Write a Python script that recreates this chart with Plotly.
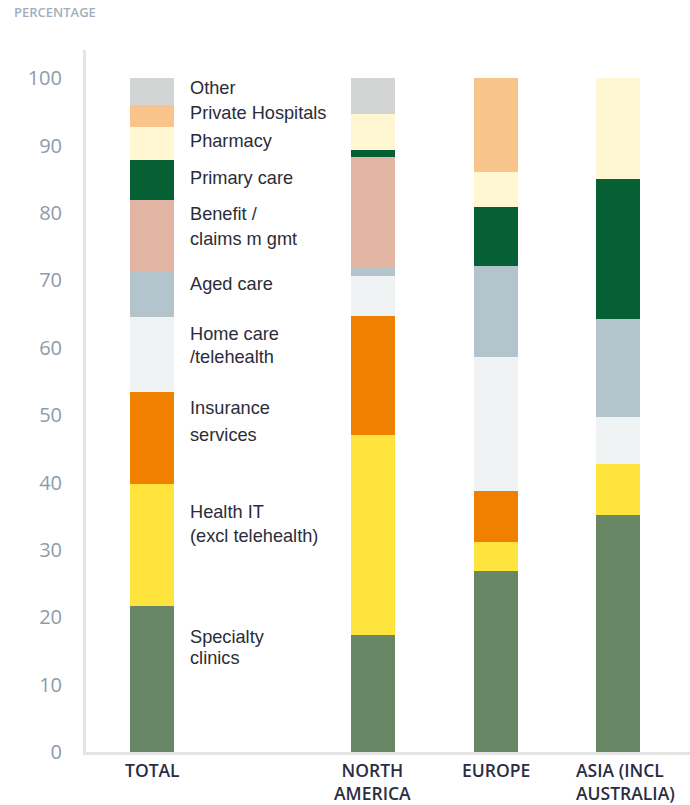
import plotly.graph_objects as go

# Regions (bars) and their axis labels
regions = ["TOTAL", "NORTH<br>AMERICA", "EUROPE", "ASIA (INCL<br>AUSTRALIA)"]

# Share of each segment per region, in percent (stacked bottom to top)
specialty_clinics = [21.6, 17.3, 26.8, 35.2]
health_it = [18.2, 29.7, 4.3, 7.6]
insurance_services = [13.7, 17.7, 7.6, 0.0]
home_care = [11.1, 6.0, 20.0, 6.9]
aged_care = [6.8, 1.1, 13.4, 14.5]
benefit_claims = [10.5, 16.5, 0.0, 0.0]
primary_care = [5.9, 1.1, 8.8, 20.8]
pharmacy = [4.9, 5.3, 5.2, 15.0]
private_hospitals = [3.4, 0.0, 13.9, 0.0]
other = [3.9, 5.3, 0.0, 0.0]

y_ticks = [0, 10, 20, 30, 40, 50, 60, 70, 80, 90, 100]

# Bar positions on the x axis (gap left after TOTAL)
x_pos = [0, 1.8, 2.8, 3.8]

series = [
    ("Specialty clinics", specialty_clinics, "#688865"),
    ("Health IT (excl telehealth)", health_it, "#ffe43e"),
    ("Insurance services", insurance_services, "#f08100"),
    ("Home care /telehealth", home_care, "#eff3f4"),
    ("Aged care", aged_care, "#b3c4cc"),
    ("Benefit / claims mgmt", benefit_claims, "#e1b5a2"),
    ("Primary care", primary_care, "#066033"),
    ("Pharmacy", pharmacy, "#fff7d1"),
    ("Private Hospitals", private_hospitals, "#f9c48b"),
    ("Other", other, "#d3d5d4"),
]

fig = go.Figure()
for name, vals, color in series:
    fig.add_trace(go.Bar(
        x=x_pos, y=vals, name=name, width=0.359,
        marker=dict(color=color, line=dict(width=0)),
        showlegend=False,
    ))

# Segment names written beside the TOTAL bar (one annotation per line)
label_lines = [
    ("Other", 98.6),
    ("Private Hospitals", 94.9),
    ("Pharmacy", 90.7),
    ("Primary care", 85.2),
    ("Benefit /", 79.9),
    ("claims m gmt", 76.2),
    ("Aged care", 69.4),
    ("Home care", 62.0),
    ("/telehealth", 58.6),
    ("Insurance", 51.0),
    ("services", 47.0),
    ("Health IT", 35.6),
    ("(excl telehealth)", 32.0),
    ("Specialty", 17.0),
    ("clinics", 14.0),
]
for text, yv in label_lines:
    fig.add_annotation(
        x=0.295, y=yv, xref="x", yref="y", text=text, showarrow=False,
        xanchor="left", yanchor="middle",
        font=dict(family="Liberation Sans, Arial, sans-serif", size=18.2, color="#2b2c3a"),
    )

# Category names under the bars; the last one is set flush left
cat_font = dict(family="Open Sans, sans-serif", size=17.5, color="#2a2d44", weight=600)
for i, (xp, name) in enumerate(zip(x_pos, regions)):
    last = i == len(regions) - 1
    fig.add_annotation(
        x=(xp - 0.36) if last else xp, y=-0.0057, xref="x", yref="paper",
        text=name, showarrow=False,
        xanchor="left" if last else "center", yanchor="top",
        align="left" if last else "center",
        font=cat_font,
    )

fig.add_annotation(
    x=-0.1225, y=1.054, xref="paper", yref="paper", text="PERCENTAGE",
    showarrow=False, xanchor="left", yanchor="middle",
    font=dict(family="Open Sans, sans-serif", size=13, color="#a3aebd", weight=600),
)

fig.update_layout(
    width=690, height=805,
    margin=dict(l=86, r=0, t=50, b=53),
    paper_bgcolor="white", plot_bgcolor="white",
    barmode="stack",
    bargap=0,
)
fig.update_xaxes(
    range=[-0.538, 4.385], tickvals=x_pos, showticklabels=False,
    showgrid=False, zeroline=False, automargin=False,
    showline=True, linecolor="#e4e4e4", linewidth=3, ticks="",
)
fig.update_yaxes(
    range=[0, 104.2], tickvals=y_ticks,
    showgrid=False, zeroline=False, automargin=False,
    showline=True, linecolor="#e4e4e4", linewidth=3,
    ticks="", ticklabelstandoff=17,
    tickfont=dict(family="Open Sans, sans-serif", size=20, color="#8e9bab"),
)

fig.write_html("out.html")
